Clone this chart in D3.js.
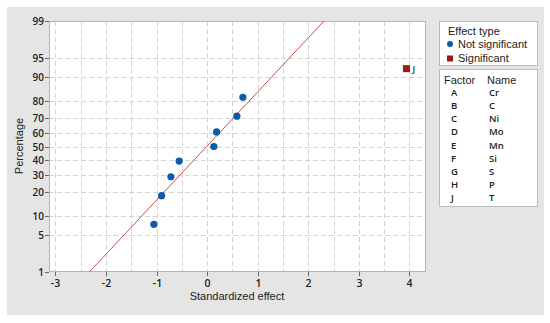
<!DOCTYPE html>
<html><head><meta charset="utf-8">
<script src="https://cdn.jsdelivr.net/npm/d3@7"></script>
<style>body{margin:0;background:#fff}svg{display:block}</style>
</head><body>
<script>
// Data
const effects = [-1.054, -0.902, -0.718, -0.554, 0.132, 0.186, 0.587, 0.706, 3.94];
const significant = [false, false, false, false, false, false, false, false, true];
const pointLabels = ["", "", "", "", "", "", "", "", "J"];
const factors = ["A","B","C","D","E","F","G","H","J"];
const names = ["Cr","C","Ni","Mo","Mn","Si","S","P","T"];
const yTicks = [1,5,10,20,30,40,50,60,70,80,90,95,99];
const xTicks = [-3,-2,-1,0,1,2,3,4];
const lineMean = -0.01, lineSd = 0.997;

const W=550,H=323;
const svg=d3.select("body").append("svg").attr("width",W).attr("height",H);
svg.append("rect").attr("x",7).attr("y",7).attr("width",537).attr("height",308).attr("fill","#e5e5e5");

const L=49,T=21,R=426,B=272;
const x=d3.scaleLinear().domain([-3.128,4.327]).range([L,R]);
function inv(p){ // inverse normal CDF (Acklam)
  const a=[-3.969683028665376e+01,2.209460984245205e+02,-2.759285104469687e+02,1.383577518672690e+02,-3.066479806614716e+01,2.506628277459239e+00];
  const b=[-5.447609879822406e+01,1.615858368580409e+02,-1.556989798598866e+02,6.680131188771972e+01,-1.328068155288572e+01];
  const c=[-7.784894002430293e-03,-3.223964580411365e-01,-2.400758277161838e+00,-2.549732539343734e+00,4.374664141464968e+00,2.938163982698783e+00];
  const d=[7.784695709041462e-03,3.224671290700398e-01,2.445134137142996e+00,3.754408661907416e+00];
  const pl=0.02425;let q,r;
  if(p<pl){q=Math.sqrt(-2*Math.log(p));return (((((c[0]*q+c[1])*q+c[2])*q+c[3])*q+c[4])*q+c[5])/((((d[0]*q+d[1])*q+d[2])*q+d[3])*q+1);}
  if(p>1-pl){q=Math.sqrt(-2*Math.log(1-p));return -(((((c[0]*q+c[1])*q+c[2])*q+c[3])*q+c[4])*q+c[5])/((((d[0]*q+d[1])*q+d[2])*q+d[3])*q+1);}
  q=p-0.5;r=q*q;return (((((a[0]*r+a[1])*r+a[2])*r+a[3])*r+a[4])*r+a[5])*q/(((((b[0]*r+b[1])*r+b[2])*r+b[3])*r+b[4])*r+1);
}
const zs=d3.scaleLinear().domain([inv(0.01),inv(0.99)]).range([B,T]);
const y=p=>zs(inv(p/100));

svg.append("rect").attr("x",L).attr("y",T).attr("width",R-L).attr("height",B-T).attr("fill","#fff");
// grid
const g=svg.append("g").attr("stroke","#d4d4d4").attr("stroke-width",1).attr("stroke-dasharray","5,3");
d3.range(-3,4.01,0.5).forEach(v=>g.append("line").attr("x1",Math.round(x(v))+0.5).attr("x2",Math.round(x(v))+0.5).attr("y1",T).attr("y2",B));
yTicks.filter(v=>v>1&&v<99).forEach(v=>g.append("line").attr("x1",L).attr("x2",R).attr("y1",Math.round(y(v))+0.5).attr("y2",Math.round(y(v))+0.5));
svg.append("rect").attr("x",L+0.5).attr("y",T+0.5).attr("width",R-L-1).attr("height",B-T-1).attr("fill","none").attr("stroke","#b4b4b4");

// axes
const yAxis=svg.append("g").attr("transform",`translate(${L},0)`);
yTicks.forEach(v=>{
  const yy=Math.round(y(v))+0.5;
  yAxis.append("line").attr("x1",-4).attr("x2",0).attr("y1",yy).attr("y2",yy).attr("stroke","#666");
  yAxis.append("text").attr("x",-5).attr("y",yy).attr("dy","0.35em").attr("text-anchor","end")
    .attr("font-family","Open Sans").attr("font-weight",600).attr("font-size",10).attr("fill","#222").text(v);
});
const xAxis=svg.append("g").attr("transform",`translate(0,${B})`);
xTicks.forEach(v=>{
  const xx=Math.round(x(v))+0.5;
  xAxis.append("line").attr("x1",xx).attr("x2",xx).attr("y1",0).attr("y2",4).attr("stroke","#666");
  xAxis.append("text").attr("x",xx).attr("y",15).attr("text-anchor","middle")
    .attr("font-family","Open Sans").attr("font-weight",600).attr("font-size",10.5).attr("fill","#222").text(v);
});
svg.append("text").attr("x",237).attr("y",300).attr("text-anchor","middle").attr("font-family","Liberation Sans")
  .attr("font-size",11).attr("fill","#222").text("Standardized effect");
svg.append("text").attr("transform","translate(23,146) rotate(-90)").attr("text-anchor","middle").attr("font-family","Liberation Sans")
  .attr("font-size",11).attr("fill","#222").text("Percentage");

// fitted line
svg.append("line").attr("x1",x(lineMean+lineSd*inv(0.01))).attr("y1",y(1)).attr("x2",x(lineMean+lineSd*inv(0.99))).attr("y2",y(99))
  .attr("stroke","#c8504f").attr("stroke-width",1);

// points
const n=effects.length;
const pts=effects.map((e,i)=>({e,p:100*(i+1-0.3)/(n+0.4),s:significant[i],lab:pointLabels[i]}));
pts.filter(d=>!d.s).forEach(d=>svg.append("circle").attr("cx",x(d.e)).attr("cy",y(d.p)).attr("r",3.6).attr("fill","#0b5aab"));
pts.filter(d=>d.s).forEach(d=>{
  svg.append("rect").attr("x",x(d.e)-3.5).attr("y",y(d.p)-3.5).attr("width",7).attr("height",7).attr("fill","#a01818");
  svg.append("text").attr("x",x(d.e)+6).attr("y",y(d.p)+3.5).attr("font-family","Open Sans").attr("font-weight",600)
    .attr("font-size",9).attr("fill","#333").text(d.lab);
});

// legend
svg.append("rect").attr("x",439.5).attr("y",21.5).attr("width",98).attr("height",44).attr("fill","#fff").attr("stroke","#bbb");
svg.append("text").attr("x",448).attr("y",35).attr("font-family","Liberation Sans").attr("font-size",11).attr("fill","#222").text("Effect type");
svg.append("circle").attr("cx",450).attr("cy",44).attr("r",3).attr("fill","#0b5aab");
svg.append("text").attr("x",458).attr("y",48).attr("font-family","Liberation Sans").attr("font-size",11).attr("fill","#222").text("Not significant");
svg.append("rect").attr("x",447).attr("y",55.5).attr("width",6).attr("height",6).attr("fill","#a01818");
svg.append("text").attr("x",458).attr("y",62).attr("font-family","Liberation Sans").attr("font-size",11).attr("fill","#222").text("Significant");

svg.append("rect").attr("x",439.5).attr("y",69.5).attr("width",98).attr("height",137).attr("fill","#fff").attr("stroke","#bbb");
svg.append("text").attr("x",444).attr("y",83.5).attr("font-family","Liberation Sans").attr("font-size",11).attr("fill","#222").text("Factor");
svg.append("text").attr("x",487).attr("y",83.5).attr("font-family","Liberation Sans").attr("font-size",11).attr("fill","#222").text("Name");
factors.forEach((f,i)=>{
  const yy=92.5+i*13.15+3.5;
  svg.append("text").attr("x",451).attr("y",yy).attr("font-family","Open Sans").attr("font-weight",600).attr("font-size",9.5).attr("fill","#222").text(f);
  svg.append("text").attr("x",489).attr("y",yy).attr("font-family","Open Sans").attr("font-weight",600).attr("font-size",9.5).attr("fill","#222").text(names[i]);
});
</script>
</body></html>
